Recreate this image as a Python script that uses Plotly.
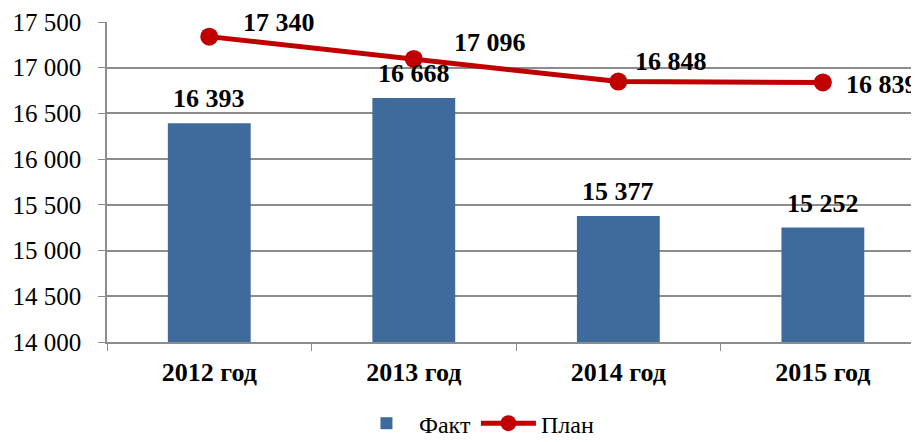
import plotly.graph_objects as go

categories = ["2012 год", "2013 год", "2014 год", "2015 год"]
fact = [16393, 16668, 15377, 15252]
plan = [17340, 17096, 16848, 16839]
y_ticks = [14000, 14500, 15000, 15500, 16000, 16500, 17000, 17500]

def fmt(v):
    return f"{v:,}".replace(",", " ")

FONT = "Liberation Serif"
BLUE = "#3F6A9C"
RED = "#C00000"
GRID = "#8C8C8C"

fig = go.Figure()
fig.add_trace(go.Bar(
    x=categories, y=fact, name="Факт", marker=dict(color=BLUE, line=dict(width=0)),
    width=0.405,
))
fig.add_trace(go.Scatter(
    x=categories, y=plan, name="План", mode="lines+markers",
    line=dict(color=RED, width=5), marker=dict(color=RED, size=18),
    cliponaxis=False,
))

for c, v in zip(categories, fact):
    fig.add_annotation(x=c, y=v, text=fmt(v), showarrow=False, yanchor="bottom", yshift=8,
                       font=dict(family=FONT, size=26, color="black", weight="bold"))

shifts = [(70, 14), (76, 16), (53, 20), (59, -2)]
for c, v, (dx, dy) in zip(categories, plan, shifts):
    fig.add_annotation(x=c, y=v, text=fmt(v), showarrow=False, xshift=dx, yshift=dy,
                       font=dict(family=FONT, size=26, color="black", weight="bold"))

fig.update_layout(
    width=911, height=434, margin=dict(l=99, r=0, t=14, b=100, autoexpand=False),
    plot_bgcolor="white", paper_bgcolor="white",
    font=dict(family=FONT, color="black"),
    showlegend=True,
    legend=dict(orientation="h", x=0.455, xanchor="center", y=-0.255, yanchor="middle",
                font=dict(family=FONT, size=24), itemwidth=55, tracegroupgap=0),
)
fig.update_xaxes(range=[-0.5, 3.47], showline=True, linecolor=GRID, linewidth=1.5,
                 ticks="outside", tickson="boundaries", ticklen=7, tickcolor=GRID,
                 ticklabelstandoff=6,
                 tickfont=dict(family=FONT, size=26, weight="bold", color="black"), showgrid=False)
fig.update_yaxes(range=[14000, 17500], tickvals=y_ticks, ticktext=[fmt(v) for v in y_ticks],
                 showline=True, linecolor=GRID, linewidth=1.5, ticks="outside", ticklen=7,
                 ticklabelstandoff=12,
                 tickcolor=GRID, showgrid=True, gridcolor=GRID, gridwidth=1.5,
                 tickfont=dict(family=FONT, size=25, color="black"), zeroline=False)

fig.write_html("out.html")
